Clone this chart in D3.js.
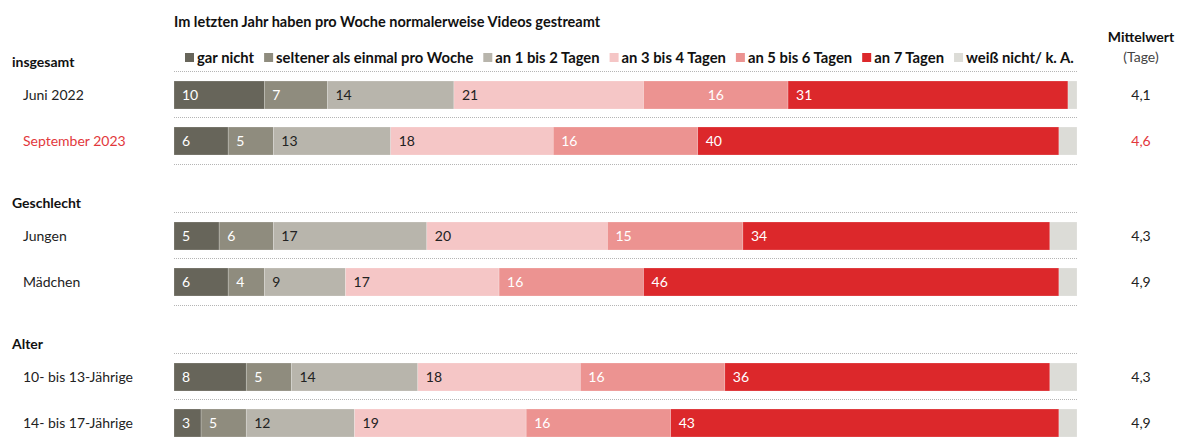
<!DOCTYPE html>
<html lang="de">
<head>
  <meta charset="UTF-8">
  <script src="https://d3js.org/d3.v7.min.js"></script>
  <title>Videos gestreamt</title>
  <style>
    body { margin: 0; background: #fff; }
    text { font-family: Lato, "Open Sans", sans-serif; }
  </style>
</head>
<body>
  <svg id="chart" width="1191" height="439"></svg>
  <script>
    // categories (legend order = stack order)
    const categories = ["gar nicht", "seltener als einmal pro Woche", "an 1 bis 2 Tagen",
      "an 3 bis 4 Tagen", "an 5 bis 6 Tagen", "an 7 Tagen", "weiß nicht/ k. A."];
    const colors = ["#67655a", "#8f8c7e", "#b8b5ac", "#f5c6c6", "#ec9391", "#dc282b", "#dcdcd7"];

    const groups = ["insgesamt", "Geschlecht", "Alter"];
    const rowLabels = ["Juni 2022", "September 2023", "Jungen", "Mädchen", "10- bis 13-Jährige", "14- bis 17-Jährige"];
    const rowGroup = [0, 0, 1, 1, 2, 2];

    // series values in percent
    const garNicht   = [10, 6, 5, 6, 8, 3];
    const seltener   = [7, 5, 6, 4, 5, 5];
    const tage1bis2  = [14, 13, 17, 9, 14, 12];
    const tage3bis4  = [21, 18, 20, 17, 18, 19];
    const tage5bis6  = [16, 16, 15, 16, 16, 16];
    const tage7      = [31, 40, 34, 46, 36, 43];
    const weissNicht = [1, 2, 3, 2, 3, 2];
    const mittelwert = [4.1, 4.6, 4.3, 4.9, 4.3, 4.9];

    const series = [garNicht, seltener, tage1bis2, tage3bis4, tage5bis6, tage7, weissNicht];
    const table = rowLabels.map((r, i) => {
      const o = { label: r, group: rowGroup[i], i: i };
      categories.forEach((c, k) => o[c] = series[k][i]);
      return o;
    });

    const svg = d3.select("#chart");
    const x = d3.scaleLinear().domain([0, 100]).range([174, 1077]);
    const barH = 28;
    const rowTop = i => 81 + i * 46 + rowGroup[i] * 49;
    const color = d3.scaleOrdinal().domain(categories).range(colors);
    const de = d3.formatLocale({ decimal: ",", thousands: ".", grouping: [3], currency: ["", "€"] });
    const fmt = de.format(".1f");
    const red = "#e2383c";
    const highlightRow = 1;

    // title
    svg.append("text")
      .attr("x", 174).attr("y", 22).attr("dy", "0.35em")
      .style("font-weight", 700).style("font-size", "14.5px").attr("fill", "#111")
      .text("Im letzten Jahr haben pro Woche normalerweise Videos gestreamt");

    // legend
    const legend = svg.append("g");
    let lx = 185;
    categories.forEach((c, k) => {
      legend.append("rect").attr("x", lx).attr("y", 53).attr("width", 9).attr("height", 9).attr("fill", colors[k]);
      const t = legend.append("text")
        .attr("x", lx + 12).attr("y", 58).attr("dy", "0.35em")
        .style("font-weight", 700).style("font-size", "14.8px").attr("fill", "#111")
        .text(c);
      lx += 12 + t.node().getComputedTextLength() + 10;
    });

    // Mittelwert column
    svg.append("text").attr("x", 1141).attr("y", 37).attr("dy", "0.35em").attr("text-anchor", "middle")
      .style("font-weight", 700).style("font-size", "14px").attr("fill", "#111").text("Mittelwert");
    svg.append("text").attr("x", 1141).attr("y", 57).attr("dy", "0.35em").attr("text-anchor", "middle")
      .style("font-size", "14px").attr("fill", "#444").text("(Tage)");

    // dotted rules
    const rules = [];
    table.forEach((d, i) => {
      rules.push(rowTop(i) - 10);
      if (i === table.length - 1 || rowGroup[i + 1] !== rowGroup[i]) rules.push(rowTop(i) + barH + 9);
    });
    svg.append("g").selectAll("line").data(rules).join("line")
      .attr("x1", x(0)).attr("x2", x(100))
      .attr("y1", d => d + 0.5).attr("y2", d => d + 0.5)
      .attr("stroke", "#b5b5b5").attr("stroke-width", 1).attr("stroke-dasharray", "1,1");

    // group headers
    groups.forEach((g, gi) => {
      const first = rowGroup.indexOf(gi);
      svg.append("text").attr("x", 12).attr("y", rowTop(first) - 19).attr("dy", "0.35em")
        .style("font-weight", 700).style("font-size", "14px").attr("fill", "#111").text(g);
    });

    // row labels + Mittelwert values
    svg.append("g").selectAll("text").data(table).join("text")
      .attr("x", 23).attr("y", (d, i) => rowTop(i) + barH / 2).attr("dy", "0.35em")
      .style("font-size", "14px").attr("fill", (d, i) => i === highlightRow ? red : "#222")
      .text(d => d.label);
    svg.append("g").selectAll("text").data(mittelwert).join("text")
      .attr("x", 1141).attr("y", (d, i) => rowTop(i) + barH / 2).attr("dy", "0.35em").attr("text-anchor", "middle")
      .style("font-size", "14px").attr("fill", (d, i) => i === highlightRow ? red : "#222")
      .text(d => fmt(d));

    // stacked bars
    const stacked = d3.stack().keys(categories)(table);
    const layers = svg.append("g").selectAll("g").data(stacked).join("g")
      .attr("fill", d => color(d.key));
    layers.selectAll("rect").data(d => d).join("rect")
      .attr("x", d => x(d[0]))
      .attr("y", d => rowTop(d.data.i))
      .attr("width", d => x(d[1]) - x(d[0]))
      .attr("height", barH)
      .attr("stroke", "#fff").attr("stroke-opacity", 0.35).attr("stroke-width", 0.6);

    // value labels (not for "weiß nicht")
    const centered = [[0, 4]]; // row, category drawn centered in the original
    const darkText = [2, 3];
    stacked.forEach((layer, k) => {
      if (k === categories.length - 1) return;
      svg.append("g").selectAll("text").data(layer).join("text")
        .attr("x", d => centered.some(c => c[0] === d.data.i && c[1] === k) ? (x(d[0]) + x(d[1])) / 2 : x(d[0]) + 8)
        .attr("text-anchor", d => centered.some(c => c[0] === d.data.i && c[1] === k) ? "middle" : "start")
        .attr("y", d => rowTop(d.data.i) + barH / 2).attr("dy", "0.35em")
        .style("font-size", "14px")
        .attr("fill", darkText.includes(k) ? "#222" : "#fff")
        .text(d => d[1] - d[0]);
    });
  </script>
</body>
</html>
